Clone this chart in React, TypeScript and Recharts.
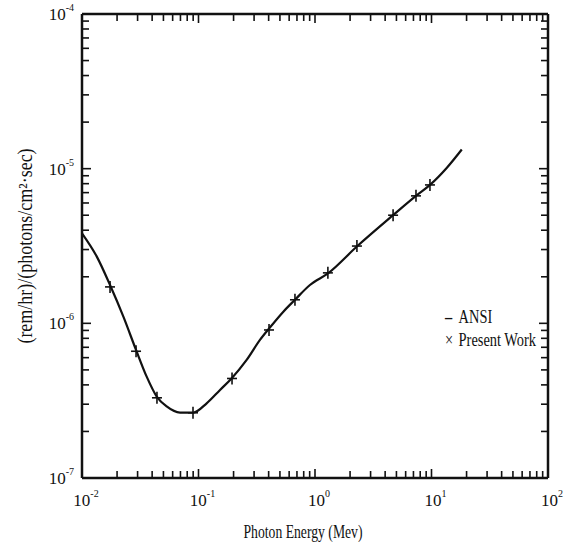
import React from "react";
import { ComposedChart, Line, Scatter, XAxis, YAxis } from "recharts";

// ANSI curve (energy in MeV, dose factor)
const ansiEnergy = [
  0.01, 0.0134, 0.0174, 0.0227, 0.0291, 0.0359, 0.0438, 0.0533, 0.0694,
  0.0902, 0.1175, 0.153, 0.193, 0.259, 0.337, 0.405, 0.535, 0.673, 0.905,
  1.3, 2.31, 4.7, 7.36, 9.71, 13.5, 18.2,
];
const ansiDose = [
  3.82e-6, 2.7e-6, 1.77e-6, 1.1e-6, 6.73e-7, 4.52e-7, 3.36e-7, 2.9e-7,
  2.65e-7, 2.65e-7, 3.04e-7, 3.71e-7, 4.42e-7, 5.8e-7, 7.81e-7, 9.29e-7,
  1.19e-6, 1.42e-6, 1.77e-6, 2.11e-6, 3.16e-6, 5.02e-6, 6.67e-6, 7.85e-6,
  1.01e-5, 1.33e-5,
];

// "Present Work" points
const workEnergy = [
  0.0174, 0.0291, 0.044, 0.0897, 0.194, 0.403, 0.673, 1.29, 2.29, 4.68, 7.36,
  9.7,
];
const workDose = [
  1.72e-6, 6.6e-7, 3.3e-7, 2.64e-7, 4.4e-7, 9.06e-7, 1.42e-6, 2.12e-6,
  3.16e-6, 5.0e-6, 6.67e-6, 7.85e-6,
];

const xMajor = [0.01, 0.1, 1, 10, 100];
const yMajor = [1e-7, 1e-6, 1e-5, 1e-4];
const minorSteps = [2, 3, 4, 5, 6, 7, 8, 9];

const withMinor = (majors: number[]) => {
  const out: number[] = [];
  majors.forEach((m, i) => {
    out.push(m);
    if (i < majors.length - 1) {
      minorSteps.forEach((s) => out.push(Number((m * s).toPrecision(3))));
    }
  });
  return out;
};

const xTicks = withMinor(xMajor);
const yTicks = withMinor(yMajor);

const ansiData = ansiEnergy.map((x, i) => ({ x, y: ansiDose[i] }));
const workData = workEnergy.map((x, i) => ({ x, y: workDose[i] }));

const FONT = "'Liberation Serif', 'DejaVu Serif', serif";
const INK = "#111";

const isMajor = (v: number) => {
  const l = Math.log10(v);
  return Math.abs(l - Math.round(l)) < 1e-6;
};

const Pow = ({ x, y, v, anchor }: any) => {
  const e = Math.round(Math.log10(v));
  return (
    <text x={x} y={y} textAnchor={anchor} fontFamily={FONT} fontSize={17} fill={INK}>
      10
      <tspan fontSize={10} dy={-9}>
        {e}
      </tspan>
    </text>
  );
};

const BottomTick = ({ x, y, payload }: any) => {
  const major = isMajor(payload.value);
  return (
    <g>
      <line x1={x} y1={y} x2={x} y2={y - (major ? 9 : 7)} stroke={INK} strokeWidth={1.6} />
      {major && <Pow x={x + 4} y={y + 28} v={payload.value} anchor="middle" />}
    </g>
  );
};

const TopTick = ({ x, y, payload }: any) => {
  const major = isMajor(payload.value);
  return <line x1={x} y1={y} x2={x} y2={y + (major ? 9 : 7)} stroke={INK} strokeWidth={1.6} />;
};

const LeftTick = ({ x, y, payload }: any) => {
  const major = isMajor(payload.value);
  return (
    <g>
      <line x1={x} y1={y} x2={x + (major ? 9 : 7)} y2={y} stroke={INK} strokeWidth={1.6} />
      {major && <Pow x={x - 8} y={y + 6} v={payload.value} anchor="end" />}
    </g>
  );
};

const RightTick = ({ x, y, payload }: any) => {
  const major = isMajor(payload.value);
  return <line x1={x} y1={y} x2={x - (major ? 9 : 7)} y2={y} stroke={INK} strokeWidth={1.6} />;
};

const Cross = ({ cx, cy }: any) => {
  if (cx == null || cy == null) return null;
  return (
    <g stroke={INK} strokeWidth={1.6}>
      <line x1={cx - 5} y1={cy} x2={cx + 5} y2={cy} />
      <line x1={cx} y1={cy - 6} x2={cx} y2={cy + 6} />
    </g>
  );
};

const XTitle = ({ viewBox }: any) => {
  const cx = viewBox.x + viewBox.width / 2 - 12;
  return (
    <text
      transform={`translate(${cx},538) scale(0.72,1)`}
      textAnchor="middle"
      fontFamily={FONT}
      fontSize={19}
      fill={INK}
    >
      Photon Energy (Mev)
    </text>
  );
};

const YTitle = ({ viewBox }: any) => {
  const cy = viewBox.y + viewBox.height / 2;
  return (
    <text
      transform={`translate(32,${cy}) rotate(-90) scale(0.9,1)`}
      textAnchor="middle"
      fontFamily={FONT}
      fontSize={20}
      fill={INK}
    >
      (rem/hr)/(photons/cm²·sec)
    </text>
  );
};

export default function App() {
  return (
    <div style={{ position: "absolute", left: 0, top: 0, width: 571, height: 550, background: "#fff" }}>
      <ComposedChart
        width={571}
        height={550}
        margin={{ top: 6, right: 15, bottom: 32, left: 20 }}
      >
        <XAxis
          xAxisId="bottom"
          dataKey="x"
          type="number"
          scale="log"
          domain={[0.01, 100]}
          ticks={xTicks}
          interval={0}
          allowDataOverflow
          height={40}
          tickSize={0}
          tickMargin={0}
          tickLine={false}
          tick={<BottomTick />}
          axisLine={{ stroke: INK, strokeWidth: 2.5 }}
          label={<XTitle />}
        />
        <XAxis
          xAxisId="top"
          orientation="top"
          dataKey="x"
          type="number"
          scale="log"
          domain={[0.01, 100]}
          ticks={xTicks}
          interval={0}
          allowDataOverflow
          height={8}
          tickSize={0}
          tickMargin={0}
          tickLine={false}
          tick={<TopTick />}
          axisLine={{ stroke: INK, strokeWidth: 2.5 }}
        />
        <YAxis
          yAxisId="left"
          type="number"
          scale="log"
          domain={[1e-7, 1e-4]}
          ticks={yTicks}
          interval={0}
          allowDataOverflow
          width={62}
          tickSize={0}
          tickMargin={0}
          tickLine={false}
          tick={<LeftTick />}
          axisLine={{ stroke: INK, strokeWidth: 2.5 }}
          label={<YTitle />}
        />
        <YAxis
          yAxisId="right"
          orientation="right"
          type="number"
          scale="log"
          domain={[1e-7, 1e-4]}
          ticks={yTicks}
          interval={0}
          allowDataOverflow
          width={8}
          tickSize={0}
          tickMargin={0}
          tickLine={false}
          tick={<RightTick />}
          axisLine={{ stroke: INK, strokeWidth: 2.5 }}
        />
        {/* invisible copy so the top and right frame axes get drawn */}
        <Line
          xAxisId="top"
          yAxisId="right"
          data={ansiData}
          dataKey="y"
          stroke="none"
          dot={false}
          legendType="none"
          isAnimationActive={false}
        />
        <Line
          xAxisId="bottom"
          yAxisId="left"
          data={ansiData}
          dataKey="y"
          name="ANSI"
          type="monotone"
          stroke={INK}
          strokeWidth={2.2}
          dot={false}
          isAnimationActive={false}
        />
        <Scatter
          xAxisId="bottom"
          yAxisId="left"
          data={workData}
          dataKey="y"
          name="Present Work"
          shape={<Cross />}
          isAnimationActive={false}
        />
      </ComposedChart>
      <div
        style={{
          position: "absolute",
          left: 445,
          top: 306,
          fontFamily: FONT,
          fontSize: 18,
          color: INK,
          lineHeight: "23px",
          whiteSpace: "nowrap",
          transform: "scaleX(0.8)",
          transformOrigin: "left top",
        }}
      >
        <div>
          <span style={{ display: "inline-block", width: 17, fontWeight: 700 }}>–</span>ANSI
        </div>
        <div>
          <span style={{ display: "inline-block", width: 17 }}>×</span>Present Work
        </div>
      </div>
    </div>
  );
}
